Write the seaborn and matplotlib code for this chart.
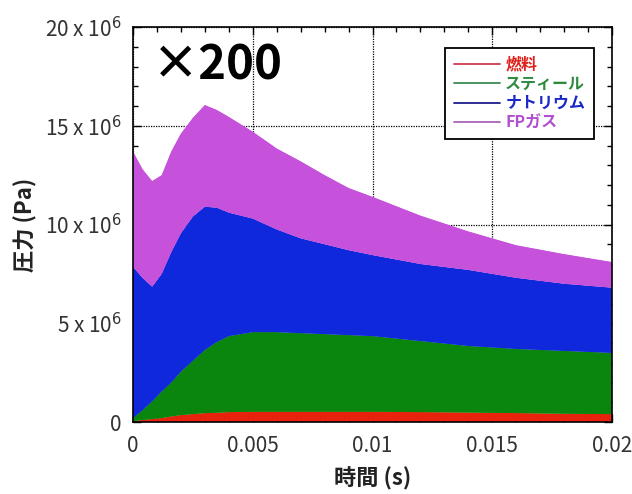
import numpy as np
import pandas as pd
import matplotlib.pyplot as plt
import seaborn as sns
import seaborn.objects as so
from matplotlib.lines import Line2D
from matplotlib.ticker import MultipleLocator

# time (s)
t = [0, 0.0004, 0.0008, 0.0012, 0.0016, 0.002, 0.0025, 0.003, 0.0035, 0.004,
     0.005, 0.006, 0.007, 0.008, 0.009, 0.01, 0.012, 0.014, 0.016, 0.018, 0.02]

# pressure of each component (x 10^6 Pa), stacked from the bottom
fuel = [0.05, 0.10, 0.15, 0.20, 0.28, 0.35, 0.40, 0.45, 0.47, 0.50,
        0.52, 0.52, 0.52, 0.52, 0.52, 0.52, 0.50, 0.48, 0.45, 0.42, 0.40]
steel = [0.15, 0.50, 0.90, 1.35, 1.72, 2.20, 2.70, 3.20, 3.58, 3.85,
         4.03, 4.03, 3.98, 3.93, 3.88, 3.83, 3.60, 3.37, 3.25, 3.18, 3.10]
sodium = [7.65, 6.70, 5.80, 5.95, 6.60, 7.00, 7.30, 7.25, 6.80, 6.25,
          5.75, 5.20, 4.80, 4.55, 4.30, 4.10, 3.90, 3.85, 3.60, 3.40, 3.30]
fp_gas = [5.85, 5.50, 5.35, 5.00, 5.10, 5.05, 5.00, 5.15, 4.95, 4.85,
          4.40, 4.10, 3.90, 3.50, 3.15, 2.95, 2.45, 1.95, 1.65, 1.50, 1.30]

names = ["燃料", "スティール", "ナトリウム", "FPガス"]
fill_colors = ["#e8220c", "#0a860e", "#1028dc", "#c652dc"]
line_colors = ["#d23c50", "#3c8a50", "#1e1e8c", "#a864b4"]
text_colors = ["#e0201a", "#2e8b3e", "#1a28c8", "#b050d0"]

xticks = [0, 0.005, 0.01, 0.015, 0.02]
xticklabels = ["0", "0.005", "0.01", "0.015", "0.02"]
yticks = [0, 5e6, 10e6, 15e6, 20e6]
yticklabels = ["0", "5 x 10$^6$", "10 x 10$^6$", "15 x 10$^6$", "20 x 10$^6$"]

sns.set_theme(style="white")
plt.rcParams["font.family"] = ["Noto Sans CJK JP", "DejaVu Sans"]

# long format, rows in stacking order
df = pd.concat(
    [pd.DataFrame({"t": t, "p": np.array(v) * 1e6, "comp": n})
     for n, v in zip(names, [fuel, steel, sodium, fp_gas])],
    ignore_index=True,
)

fig, ax = plt.subplots(figsize=(6.32, 4.94), dpi=100)
fig.subplots_adjust(left=0.2104, right=0.9684, bottom=0.1457, top=0.9453)

(
    so.Plot(df, x="t", y="p", color="comp")
    .add(so.Area(alpha=1, edgewidth=0.6, edgealpha=1), so.Stack(), legend=False)
    .scale(color=so.Nominal(fill_colors, order=names))
    .on(ax)
    .plot()
)

ax.set_xlim(0, 0.02)
ax.set_ylim(0, 20e6)
ax.set_xticks(xticks)
ax.set_xticklabels(xticklabels)
ax.set_yticks(yticks)
ax.set_yticklabels(yticklabels)
ax.xaxis.set_minor_locator(MultipleLocator(0.001))
ax.yaxis.set_minor_locator(MultipleLocator(1e6))
ax.tick_params(which="both", direction="in", top=True, right=True,
               bottom=True, left=True, color="black", width=1,
               labelcolor="#333333", labelsize=15)
ax.tick_params(which="major", length=6)
ax.tick_params(which="minor", length=3.5)
ax.tick_params(axis="x", pad=9)
ax.tick_params(axis="y", pad=8)

ax.grid(True, which="major", linestyle=(0, (1, 1)), color="black", linewidth=0.9)
ax.set_axisbelow(True)
for s in ax.spines.values():
    s.set_color("black")
    s.set_linewidth(1.2)

ax.set_xlabel("時間 (s)", fontsize=16, fontweight="bold", color="#222222")
ax.set_ylabel("圧力 (Pa)", fontsize=16, fontweight="bold", color="#222222")
ax.xaxis.set_label_coords(0.5, -0.115)
ax.yaxis.set_label_coords(-0.2, 0.5)

ax.text(0.04, 0.866, "×200", transform=ax.transAxes, fontsize=34,
        fontweight="bold", color="black", ha="left", va="baseline")

handles = [Line2D([], [], color=c, lw=1.3) for c in line_colors]
leg = ax.legend(handles, names, loc="upper right", bbox_to_anchor=(0.9624, 0.9468),
                borderaxespad=0, fancybox=False, framealpha=1, edgecolor="black",
                prop={"size": 11.5, "weight": "bold"}, handlelength=2.9,
                handletextpad=0.3, labelspacing=0.2, borderpad=0.55)
leg.get_frame().set_linewidth(1.3)
for txt, c in zip(leg.get_texts(), text_colors):
    txt.set_color(c)

fig.savefig("out.png", dpi=100)
